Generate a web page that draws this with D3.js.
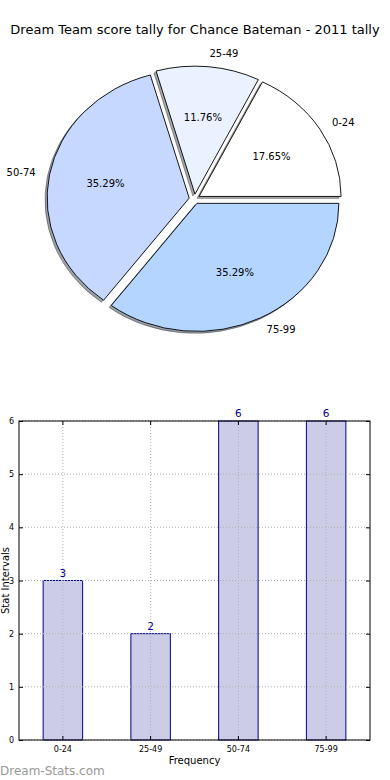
<!DOCTYPE html>
<html>
<head>
<meta charset="utf-8">
<title>Dream Team score tally</title>
<style>
  body { margin: 0; background: #fff; }
  svg { display: block; font-family: "DejaVu Sans", sans-serif; }
  .slice { stroke: #000; stroke-width: 0.9px; }
  .grid line { stroke: #b0b0b0; stroke-width: 1px; stroke-dasharray: 1,2; }
  .tick-lbl { font-size: 8px; fill: #000; }
</style>
</head>
<body>
<svg width="390" height="780"></svg>
<script src="https://cdn.jsdelivr.net/npm/d3@7"></script>
<script>
// data
const categories = ["0-24", "25-49", "50-74", "75-99"];
const counts = [3, 2, 6, 6];
const pieColors = ["#ffffff", "#eaf1ff", "#c6d8ff", "#b4d5ff"];
const yTicks = [0, 1, 2, 3, 4, 5, 6];

const svg = d3.select("svg");

svg.append("text")
    .attr("x", 195).attr("y", 34)
    .attr("text-anchor", "middle")
    .style("font-size", "13px")
    .text("Dream Team score tally for Chance Bateman - 2011 tally");

// ---- pie (matplotlib style: starts at 3 o'clock, counter-clockwise, exploded, shadow)
const cx = 194.5, cy = 199, rx = 142, ry = 128;
const explode = 0.038;
const shadowOff = 0.015;
const total = d3.sum(counts);

const pie = d3.pie().sort(null)
    .startAngle(Math.PI / 2)
    .endAngle(Math.PI / 2 - 2 * Math.PI);
const arcs = pie(counts);
const arc = d3.arc().innerRadius(0).outerRadius(1);

arcs.forEach((d, i) => {
    const mid = (d.startAngle + d.endAngle) / 2;
    d.ux = Math.sin(mid);
    d.uy = -Math.cos(mid);
    d.ox = cx + explode * rx * d.ux;
    d.oy = cy + explode * ry * d.uy;
    d.color = pieColors[i];
});

function shade(c) {
    c = d3.rgb(c);
    return `rgb(${c.r * 0.3},${c.g * 0.3},${c.b * 0.3})`;
}

const shadowLayer = svg.append("g");
shadowLayer.selectAll("path")
    .data(arcs)
    .enter().append("path")
    .attr("transform", d => `translate(${d.ox - shadowOff * rx},${d.oy + shadowOff * ry}) scale(${rx},${ry})`)
    .attr("d", arc)
    .attr("vector-effect", "non-scaling-stroke")
    .attr("fill", d => shade(d.color))
    .attr("stroke", d => shade(d.color))
    .attr("fill-opacity", 0.5)
    .attr("stroke-opacity", 0.5)
    .attr("stroke-width", 1);

svg.append("g").selectAll("path")
    .data(arcs)
    .enter().append("path")
    .attr("class", "slice")
    .attr("transform", d => `translate(${d.ox},${d.oy}) scale(${rx},${ry})`)
    .attr("d", arc)
    .attr("vector-effect", "non-scaling-stroke")
    .attr("fill", d => d.color);

// category labels at 1.1 radius
svg.append("g").selectAll("text")
    .data(arcs)
    .enter().append("text")
    .attr("x", d => d.ox + 1.1 * rx * d.ux)
    .attr("y", d => d.oy + 1.1 * ry * d.uy)
    .attr("dy", "0.35em")
    .attr("text-anchor", d => d.ux >= 0 ? "start" : "end")
    .style("font-size", "10px")
    .text((d, i) => categories[i]);

// percentage labels at 0.6 radius
svg.append("g").selectAll("text")
    .data(arcs)
    .enter().append("text")
    .attr("x", d => d.ox + 0.6 * rx * d.ux)
    .attr("y", d => d.oy + 0.6 * ry * d.uy)
    .attr("dy", "0.35em")
    .attr("text-anchor", "middle")
    .style("font-size", "10px")
    .text(d => (d.value / total * 100).toFixed(2) + "%");

// ---- bar chart
const bx0 = 19, bx1 = 370, by0 = 421, by1 = 740;
const x = d3.scaleBand().domain(categories).range([bx0, bx1])
    .paddingInner(0.55).paddingOuter(0.275);
const y = d3.scaleLinear().domain([0, 6]).range([by1, by0]);

svg.append("g").selectAll("rect")
    .data(counts)
    .enter().append("rect")
    .attr("x", (d, i) => x(categories[i]))
    .attr("y", d => y(d))
    .attr("width", x.bandwidth())
    .attr("height", d => y(0) - y(d))
    .attr("fill", "#ccccE6")
    .attr("stroke", "#00008b")
    .attr("stroke-width", 1);

const grid = svg.append("g").attr("class", "grid");
grid.selectAll("line.h")
    .data(yTicks)
    .enter().append("line")
    .attr("x1", bx0).attr("x2", bx1)
    .attr("y1", d => y(d)).attr("y2", d => y(d));
grid.selectAll("line.v")
    .data(categories)
    .enter().append("line")
    .attr("x1", d => x(d) + x.bandwidth() / 2).attr("x2", d => x(d) + x.bandwidth() / 2)
    .attr("y1", by0).attr("y2", by1);

// value labels
svg.append("g").selectAll("text")
    .data(counts)
    .enter().append("text")
    .attr("x", (d, i) => x(categories[i]) + x.bandwidth() / 2)
    .attr("y", d => y(d) - 4)
    .attr("text-anchor", "middle")
    .attr("fill", "#00008b")
    .style("font-size", "10.5px")
    .text(d => d);

// axes
const yAxis = d3.axisLeft(y).tickValues(yTicks).tickSize(-4).tickPadding(3).tickFormat(d3.format("d"));
const gy = svg.append("g").attr("transform", `translate(${bx0},0)`).call(yAxis);
const xAxis = d3.axisBottom(x).tickSize(-4).tickPadding(6);
const gx = svg.append("g").attr("transform", `translate(0,${by1})`).call(xAxis);
[gy, gx].forEach(g => {
    g.select(".domain").remove();
    g.selectAll(".tick line").attr("stroke", "#000");
    g.selectAll(".tick text").attr("class", "tick-lbl").style("font-family", "DejaVu Sans, sans-serif");
});
gy.selectAll(".tick text").attr("x", -5);
// right / top ticks like matplotlib
svg.append("g").attr("transform", `translate(${bx1},0)`)
    .call(d3.axisRight(y).tickValues(yTicks).tickSize(-4).tickFormat(""))
    .call(g => g.select(".domain").remove());
svg.append("g").attr("transform", `translate(0,${by0})`)
    .call(d3.axisTop(x).tickSize(-4).tickFormat(""))
    .call(g => g.select(".domain").remove());

svg.append("rect")
    .attr("x", bx0).attr("y", by0)
    .attr("width", bx1 - bx0).attr("height", by1 - by0)
    .attr("fill", "none").attr("stroke", "#000").attr("stroke-width", 1);

svg.append("text")
    .attr("x", (bx0 + bx1) / 2).attr("y", 764)
    .attr("text-anchor", "middle")
    .style("font-size", "10px")
    .text("Frequency");

svg.append("text")
    .attr("transform", `translate(8.5,${(by0 + by1) / 2}) rotate(-90)`)
    .attr("text-anchor", "middle")
    .style("font-size", "10px")
    .text("Stat Intervals");

svg.append("text")
    .attr("x", 0).attr("y", 775)
    .attr("fill", "#999")
    .style("font-size", "12px")
    .text("Dream-Stats.com");
</script>
</body>
</html>
